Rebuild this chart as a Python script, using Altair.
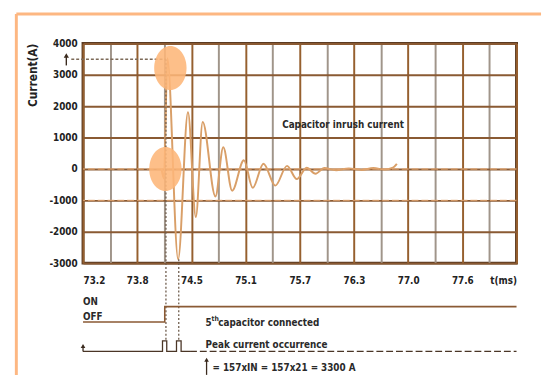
import json
import altair as alt
import pandas as pd

FONT = "DejaVu Sans Condensed, Liberation Sans Narrow, sans-serif"

# ---------------- data ----------------
# capacitor inrush current trace (turning points)
time_ms = [74.069, 74.096, 74.134, 74.253, 74.362, 74.449, 74.525, 74.666, 74.753,
           74.851, 74.981, 75.079, 75.198, 75.329, 75.459, 75.567, 75.676, 75.774,
           75.872, 76.002, 76.143, 76.284, 76.415, 76.545, 76.632, 76.675]
current_a = [0, -300, 3530, -2875, 1810, -1530, 1500, -875, 690,
             -690, 280, -600, 170, -530, 100, -320, 40, -150,
             30, -40, 20, -30, 30, -20, 40, 160]

y_ticks = [-3000, -2000, -1000, 0, 1000, 2000, 3000, 4000]
x_grid = [73.2, 73.5, 73.8, 74.1, 74.4, 74.7, 75.0, 75.3, 75.6, 75.9,
          76.2, 76.5, 76.8, 77.1, 77.4, 77.7, 78.0]
x_labels = ["73.2", "73.8", "74.5", "75.1", "75.7", "76.3", "77.0", "77.6", "t(ms)"]

baseline_levels = [0, -1000]

peak_time, peak_current = 74.118, 3500
trough_time, trough_current = 74.26, -2875
arrow_time = 73.015
guide_start_time = 73.07

hl_time = [74.167, 74.112]
hl_current = [3220, 0]

# switching / timing diagram
switch_t = [73.2, 74.105, 74.105, 78.0]
switch_v = [-4875, -4875, -4385, -4385]
pulse_t = [73.2, 74.080, 74.080, 74.127, 74.127, 74.235, 74.235, 74.286, 74.286, 74.385]
pulse_v = [-5812, -5812, -5478, -5478, -5812, -5812, -5478, -5478, -5812, -5812]
pulse_dash_t = [74.385, 78.0]
pulse_level = -5812
pulse_top = -5478

# ---------------- scales / axes ----------------
XS = alt.Scale(domain=[73.2, 78.0], nice=False, zero=False)
YS = alt.Scale(domain=[-3000, 4000], nice=False, zero=False)

idx = "round((datum.value - 73.2) / 0.3)"
x_label_expr = f"{idx} % 2 == 0 ? {json.dumps(x_labels)}[{idx} / 2] : ''"

x_axis = alt.Axis(
    values=x_grid, labelExpr=x_label_expr, grid=True,
    gridColor={"condition": {"test": f"{idx} % 2 == 0", "value": "#96602f"},
               "value": "#a0958a"},
    gridWidth=2, ticks=False, domain=False,
    labelFont=FONT, labelFontWeight="bold", labelFontSize=10, labelColor="#222222",
    labelPadding=13, labelFlush=True, labelOverlap=False, title=None)

y_axis = alt.Axis(
    values=y_ticks, labelExpr="'' + datum.value", grid=True,
    gridColor="#8a5a33", gridWidth=2, ticks=False, domain=False,
    labelFont=FONT, labelFontWeight="bold", labelFontSize=10, labelColor="#222222",
    labelPadding=6, title="Current(A)", titleX=-51, titleY=32, titleAngle=270,
    titleAlign="center", titleBaseline="middle", titleFont=FONT,
    titleFontSize=12, titleFontWeight="bold", titleColor="#222222")


def X(f):
    return alt.X(f, type="quantitative", scale=XS, axis=x_axis)


def Y(f):
    return alt.Y(f, type="quantitative", scale=YS, axis=y_axis)


wave_df = pd.DataFrame({"t": time_ms, "i": current_a})

wave = alt.Chart(wave_df).mark_line(
    color="#d99f68", strokeWidth=2, interpolate="monotone"
).encode(x=X("t"), y=Y("i"))

baselines = alt.Chart(pd.DataFrame({"v": baseline_levels})).mark_rule(
    color="#e2a570", strokeWidth=1.3, strokeDash=[7, 3], opacity=0.8
).encode(y=Y("v"))

# dashed guides
guide_df = pd.DataFrame({
    "x": [guide_start_time], "x2": [peak_time], "y": [peak_current]})
guide_h = alt.Chart(guide_df).mark_rule(
    color="#7d6a58", strokeWidth=1.5, strokeDash=[3, 2]
).encode(x=X("x"), x2="x2:Q", y=Y("y"))

vdf = pd.DataFrame({"x": [peak_time, trough_time],
                    "y": [peak_current, trough_current],
                    "y2": [pulse_top, pulse_top]})
guide_v = alt.Chart(vdf).mark_rule(
    color="#6e5c4c", strokeWidth=1.3, strokeDash=[2, 2]
).encode(x=X("x"), y=Y("y"), y2="y2:Q")

# small arrow at peak value on the y axis
arrow1_df = pd.DataFrame({"x": [arrow_time], "y": [3300], "y2": [3620]})
arrow1_stem = alt.Chart(arrow1_df).mark_rule(color="#3a2a1e", strokeWidth=1.4).encode(
    x=X("x"), y=Y("y"), y2="y2:Q")
arrow1_head = alt.Chart(arrow1_df).mark_point(
    shape="triangle-up", filled=True, color="#3a2a1e", size=28, opacity=1
).encode(x=X("x"), y=Y("y2"))

# highlight ellipses
ELLIPSE = "M-1,0A1,1.36,0,1,1,1,0A1,1.36,0,1,1,-1,0Z"
hl = alt.Chart(pd.DataFrame({"t": hl_time, "i": hl_current})).mark_point(
    shape=ELLIPSE, filled=True, color="#fdb679", size=1089, opacity=0.88, strokeWidth=0
).encode(x=X("t"), y=Y("i"))

# timing diagram
sw_df = pd.DataFrame({"t": switch_t, "v": switch_v, "o": list(range(len(switch_t)))})
sw_line = alt.Chart(sw_df).mark_line(color="#8a5a34", strokeWidth=1.6).encode(
    x=X("t"), y=Y("v"), order="o:Q")

pu_df = pd.DataFrame({"t": pulse_t, "v": pulse_v, "o": list(range(len(pulse_t)))})
pu_line = alt.Chart(pu_df).mark_line(color="#4a3526", strokeWidth=1.3).encode(
    x=X("t"), y=Y("v"), order="o:Q")

pd_df = pd.DataFrame({"x": [pulse_dash_t[0]], "x2": [pulse_dash_t[1]], "y": [pulse_level]})
pu_dash = alt.Chart(pd_df).mark_rule(color="#4a3526", strokeWidth=1.3, strokeDash=[7, 3]).encode(
    x=X("x"), x2="x2:Q", y=Y("y"))

arrow2_df = pd.DataFrame({"x": [73.2], "y": [pulse_level], "y2": [-5640]})
arrow2_stem = alt.Chart(arrow2_df).mark_rule(color="#3a2a1e", strokeWidth=1.3).encode(
    x=X("x"), y=Y("y"), y2="y2:Q")
arrow2_head = alt.Chart(arrow2_df).mark_point(
    shape="triangle-up", filled=True, color="#3a2a1e", size=22, opacity=1
).encode(x=X("x"), y=Y("y2"))

arrow3_df = pd.DataFrame({"x": [74.568], "y": [-6560], "y2": [-6080]})
arrow3_stem = alt.Chart(arrow3_df).mark_rule(color="#3a2a1e", strokeWidth=1.3).encode(
    x=X("x"), y=Y("y"), y2="y2:Q")
arrow3_head = alt.Chart(arrow3_df).mark_point(
    shape="triangle-up", filled=True, color="#3a2a1e", size=22, opacity=1
).encode(x=X("x"), y=Y("y2"))

# texts
ann_text = ["Capacitor inrush current", "ON", "OFF", "5",
            "Peak current occurrence", "= 157xIN = 157x21 = 3300 A"]
ann_t = [75.405, 73.2, 73.2, 74.557, 74.557, 74.634]
ann_v = [1406, -4250, -4720, -4900, -5600, -6330]
txt = alt.Chart(pd.DataFrame({"s": ann_text, "t": ann_t, "v": ann_v})).mark_text(
    align="left", baseline="middle", font=FONT, fontWeight="bold", fontSize=10,
    color="#2a2a2a"
).encode(x=X("t"), y=Y("v"), text="s:N")

sup = alt.Chart(pd.DataFrame({"s": ["th"], "t": [74.557], "v": [-4900]})).mark_text(
    align="left", baseline="middle", font=FONT, fontWeight="bold", fontSize=7,
    color="#2a2a2a", dx=6, dy=-4
).encode(x=X("t"), y=Y("v"), text="s:N")

cap = alt.Chart(pd.DataFrame({"s": ["capacitor connected"], "t": [74.557], "v": [-4900]})).mark_text(
    align="left", baseline="middle", font=FONT, fontWeight="bold", fontSize=10,
    color="#2a2a2a", dx=13
).encode(x=X("t"), y=Y("v"), text="s:N")

# orange frame
frame_top = alt.Chart(alt.Data(values=[{}])).mark_rule(color="#fdb782", strokeWidth=3).encode(
    x=alt.value(-68), x2=alt.value(467), y=alt.value(-30))
frame_left = alt.Chart(alt.Data(values=[{}])).mark_rule(color="#fdb782", strokeWidth=3).encode(
    x=alt.value(-68), y=alt.value(-30), y2=alt.value(338))

chart = alt.layer(
    wave, baselines, guide_h, guide_v, arrow1_stem, arrow1_head, hl,
    sw_line, pu_line, pu_dash, arrow2_stem, arrow2_head, arrow3_stem, arrow3_head,
    txt, sup, cap, frame_top, frame_left
).properties(
    width=442, height=224,
    padding={"left": 6.5, "top": 0.5, "right": 0, "bottom": 0},
    background="white",
).configure_view(stroke="#5b3b22", strokeWidth=3)

chart.save("out.html", embed_options={"renderer": "svg", "actions": False})
